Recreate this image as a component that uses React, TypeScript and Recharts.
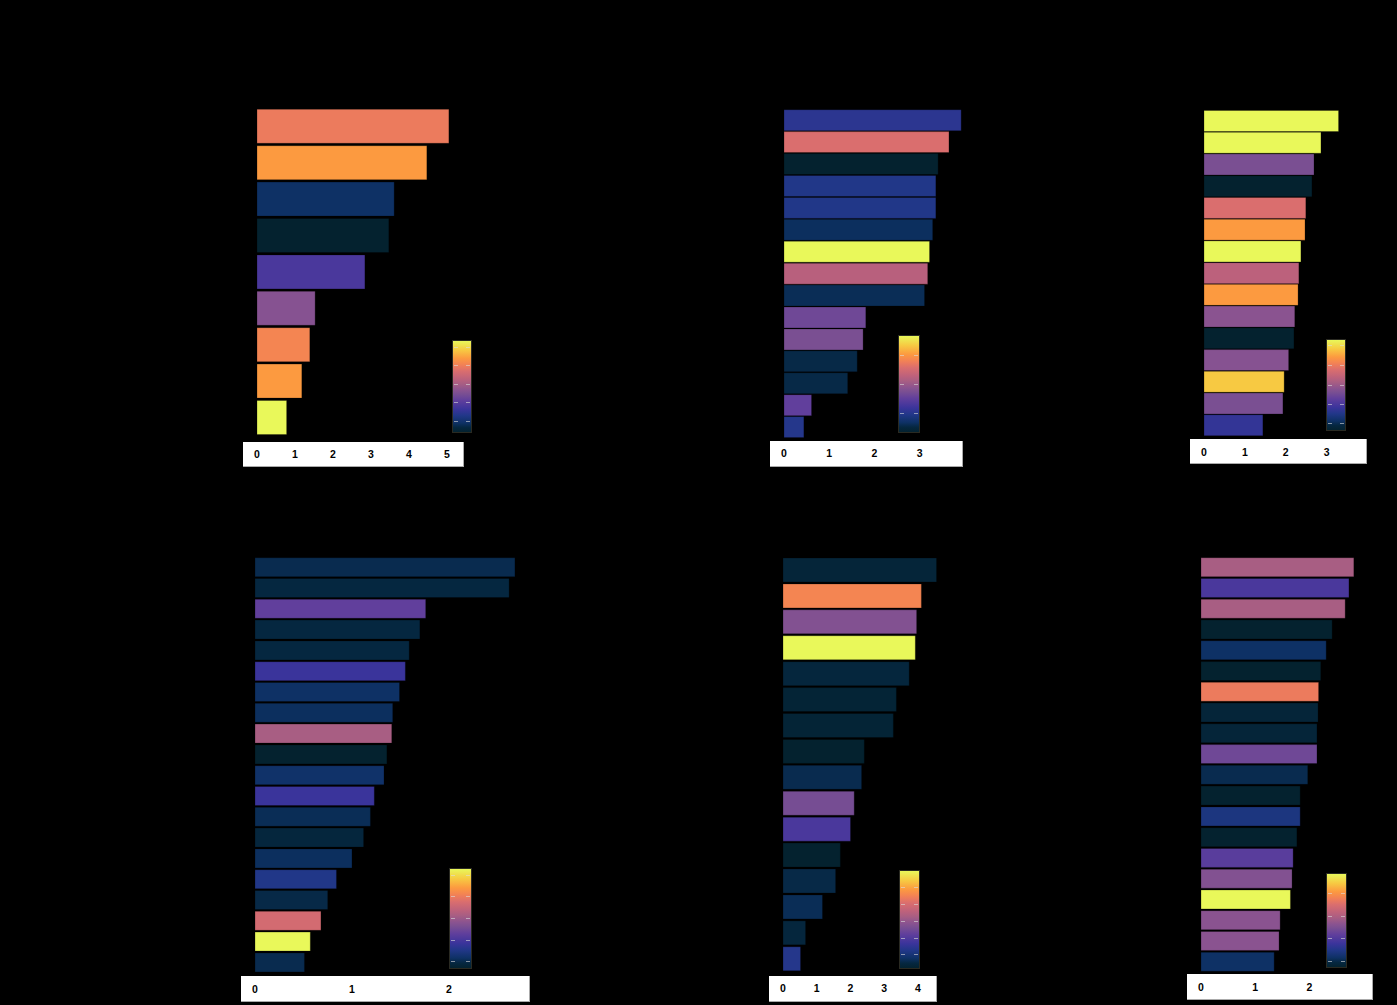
import { BarChart, Bar, XAxis, YAxis, Cell } from 'recharts'

// The y labels and titles are black on black in the reference, so only ranks are kept as categories.
const rank = (n: number) => Array.from({ length: n }, (_, i) => `#${i + 1}`)

const P1_CATS = rank(9)
const P1_VALUES = [5.05, 4.47, 3.61, 3.47, 2.84, 1.53, 1.39, 1.18, 0.78]
const P1_TONE = [0.72, 0.81, 0.1, 0.0, 0.29, 0.45, 0.75, 0.81, 1.0]
const P1_TICKS = [0, 1, 2, 3, 4, 5]

const P2_CATS = rank(15)
const P2_VALUES = [3.92, 3.65, 3.41, 3.36, 3.36, 3.29, 3.22, 3.18, 3.11, 1.81, 1.75, 1.62, 1.41, 0.61, 0.44]
const P2_TONE = [0.21, 0.67, 0.0, 0.18, 0.18, 0.09, 1.0, 0.57, 0.08, 0.39, 0.42, 0.06, 0.06, 0.35, 0.19]
const P2_TICKS = [0, 1, 2, 3]

const P3_CATS = rank(15)
const P3_VALUES = [3.29, 2.86, 2.69, 2.64, 2.49, 2.47, 2.37, 2.32, 2.3, 2.22, 2.2, 2.07, 1.96, 1.93, 1.44]
const P3_TONE = [1.0, 1.0, 0.42, 0.0, 0.67, 0.81, 1.0, 0.58, 0.81, 0.46, 0.0, 0.45, 0.9, 0.42, 0.23]
const P3_TICKS = [0, 1, 2, 3]

const P4_CATS = rank(20)
const P4_VALUES = [2.68, 2.62, 1.76, 1.7, 1.59, 1.55, 1.49, 1.42, 1.41, 1.36, 1.33, 1.23, 1.19, 1.12, 1.0, 0.84, 0.75, 0.68, 0.57, 0.51]
const P4_TONE = [0.07, 0.05, 0.35, 0.05, 0.05, 0.25, 0.1, 0.09, 0.53, 0.0, 0.11, 0.25, 0.08, 0.04, 0.09, 0.18, 0.06, 0.65, 1.0, 0.07]
const P4_TICKS = [0, 1, 2]

const P5_CATS = rank(16)
const P5_VALUES = [4.55, 4.1, 3.96, 3.92, 3.74, 3.36, 3.27, 2.41, 2.33, 2.11, 2.0, 1.7, 1.56, 1.17, 0.67, 0.52]
const P5_TONE = [0.03, 0.75, 0.44, 1.0, 0.04, 0.02, 0.02, 0.0, 0.07, 0.41, 0.29, 0.0, 0.06, 0.08, 0.04, 0.19]
const P5_TICKS = [0, 1, 2, 3, 4]

const P6_CATS = rank(20)
const P6_VALUES = [2.82, 2.73, 2.66, 2.42, 2.31, 2.21, 2.17, 2.16, 2.14, 2.14, 1.97, 1.83, 1.83, 1.77, 1.7, 1.68, 1.65, 1.46, 1.44, 1.35]
const P6_TONE = [0.53, 0.29, 0.53, 0.0, 0.1, 0.0, 0.72, 0.03, 0.03, 0.39, 0.07, 0.0, 0.16, 0.0, 0.33, 0.44, 1.0, 0.46, 0.46, 0.1]
const P6_TICKS = [0, 1, 2]

// approximate "thermal" colour map
const THERMAL: [number, string][] = [
  [0.0, '#04222f'],
  [0.05, '#052740'],
  [0.1, '#0e3165'],
  [0.18, '#213788'],
  [0.25, '#3a349b'],
  [0.29, '#4a389c'],
  [0.35, '#613f9c'],
  [0.42, '#7a4f92'],
  [0.46, '#8a5390'],
  [0.53, '#a85e83'],
  [0.58, '#bc617c'],
  [0.67, '#da6e6e'],
  [0.72, '#ec7b5d'],
  [0.75, '#f48552'],
  [0.81, '#fc9a40'],
  [0.9, '#f7c942'],
  [1.0, '#e9f85a'],
]

const hex = (h: string) => [1, 3, 5].map(i => parseInt(h.slice(i, i + 2), 16))

function thermal(t: number): string {
  const c = Math.max(0, Math.min(1, t))
  for (let i = 1; i < THERMAL.length; i++) {
    const [t1, h1] = THERMAL[i]
    if (c <= t1) {
      const [t0, h0] = THERMAL[i - 1]
      const k = (c - t0) / (t1 - t0)
      const a = hex(h0)
      const b = hex(h1)
      return `rgb(${a.map((v, j) => Math.round(v + (b[j] - v) * k)).join(',')})`
    }
  }
  return THERMAL[THERMAL.length - 1][1]
}

const GRADIENT = `linear-gradient(to top, ${THERMAL.map(([t, h]) => `${h} ${t * 100}%`).join(', ')})`

type Layout = {
  x0: number
  ppu: number
  max: number
  top: number
  bottom: number
  gap: number
  strip: [number, number, number, number]
  labelY: number
  bar: [number, number, number, number]
  dashes: number[]
}

const PAD = 20
const AXIS_H = 40

function Panel({ cats, values, tones, ticks, lay }: { cats: string[]; values: number[]; tones: number[]; ticks: number[]; lay: Layout }) {
  const data = cats.map((name, i) => ({ name, value: values[i], tone: tones[i] }))
  const plotW = lay.max * lay.ppu
  const plotH = lay.bottom - lay.top
  const [sx, sy, sw, sh] = lay.strip
  const [bx, by, bw, bh] = lay.bar

  const renderTick = (p: any) => (
    <text
      x={p.x}
      y={lay.labelY - lay.top}
      textAnchor="middle"
      dominantBaseline="central"
      fontFamily="'Liberation Sans', Arial, sans-serif"
      fontWeight="bold"
      fontSize={10.5}
      fill="#000"
    >
      {p.payload.value}
    </text>
  )

  return (
    <>
      <div style={{ position: 'absolute', left: sx, top: sy, width: sw, height: sh, background: '#fff', borderRight: '1px solid #aaa', borderBottom: '1px solid #aaa', boxSizing: 'border-box' }} />
      <div style={{ position: 'absolute', left: lay.x0 - PAD, top: lay.top }}>
        <BarChart
          width={plotW + PAD * 2}
          height={plotH + AXIS_H}
          data={data}
          layout="vertical"
          margin={{ top: 0, right: PAD, bottom: 0, left: PAD }}
          barCategoryGap={lay.gap}
        >
          <XAxis type="number" domain={[0, lay.max]} ticks={ticks} interval={0} height={AXIS_H} axisLine={false} tickLine={false} tick={renderTick} />
          <YAxis type="category" dataKey="name" hide />
          <Bar dataKey="value" isAnimationActive={false} stroke="#000" strokeOpacity={0.25} strokeWidth={1}>
            {data.map((d, i) => (
              <Cell key={i} fill={thermal(d.tone)} />
            ))}
          </Bar>
        </BarChart>
      </div>
      <div style={{ position: 'absolute', left: bx, top: by, width: bw, height: bh, background: GRADIENT, border: '1px solid #2a2a22', boxSizing: 'border-box' }}>
        {lay.dashes.map((f, i) => (
          <div key={i}>
            <div style={{ position: 'absolute', left: 1, top: f * bh, width: 4, height: 1, background: 'rgba(220,220,220,0.6)' }} />
            <div style={{ position: 'absolute', right: 1, top: f * bh, width: 4, height: 1, background: 'rgba(220,220,220,0.6)' }} />
          </div>
        ))}
      </div>
    </>
  )
}

const L1: Layout = { x0: 257, ppu: 38, max: 5.4, top: 108.4, bottom: 436, gap: 1.3, strip: [243, 442, 221, 25], labelY: 455, bar: [452, 339.5, 20, 93], dashes: [0.065, 0.265, 0.466, 0.666, 0.866] }
const L2: Layout = { x0: 784, ppu: 45.2, max: 4.0, top: 108.5, bottom: 437.3, gap: 0.7, strip: [770, 441, 193, 26], labelY: 453.3, bar: [898, 334.5, 22, 98], dashes: [0.2, 0.49, 0.786] }
const L3: Layout = { x0: 1204, ppu: 40.9, max: 3.9, top: 109.5, bottom: 435.5, gap: 0.5, strip: [1190, 439, 177, 25], labelY: 451.7, bar: [1326, 338.5, 20, 92], dashes: [0.065, 0.28, 0.49, 0.7, 0.91] }
const L4: Layout = { x0: 255, ppu: 97, max: 2.8, top: 556.5, bottom: 972.5, gap: 0.7, strip: [241, 976, 289, 26], labelY: 989, bar: [449, 868, 23, 101], dashes: [0.06, 0.27, 0.49, 0.7, 0.91] }
const L5: Layout = { x0: 782.5, ppu: 33.75, max: 4.6, top: 557.3, bottom: 972, gap: 1, strip: [769, 976, 168, 26], labelY: 989, bar: [899, 870, 21, 99], dashes: [0.165, 0.334, 0.503, 0.672, 0.84] }
const L6: Layout = { x0: 1201, ppu: 54.2, max: 3.1, top: 556.5, bottom: 971.8, gap: 0.7, strip: [1187, 974, 186, 26], labelY: 987, bar: [1326, 872.5, 21, 95], dashes: [0.21, 0.445, 0.68, 0.92] }

export default function App() {
  return (
    <div style={{ position: 'relative', width: 1397, height: 1005, background: '#000', overflow: 'hidden' }}>
      <style>{'body{margin:0;background:#000}'}</style>
      <Panel cats={P1_CATS} values={P1_VALUES} tones={P1_TONE} ticks={P1_TICKS} lay={L1} />
      <Panel cats={P2_CATS} values={P2_VALUES} tones={P2_TONE} ticks={P2_TICKS} lay={L2} />
      <Panel cats={P3_CATS} values={P3_VALUES} tones={P3_TONE} ticks={P3_TICKS} lay={L3} />
      <Panel cats={P4_CATS} values={P4_VALUES} tones={P4_TONE} ticks={P4_TICKS} lay={L4} />
      <Panel cats={P5_CATS} values={P5_VALUES} tones={P5_TONE} ticks={P5_TICKS} lay={L5} />
      <Panel cats={P6_CATS} values={P6_VALUES} tones={P6_TONE} ticks={P6_TICKS} lay={L6} />
    </div>
  )
}
